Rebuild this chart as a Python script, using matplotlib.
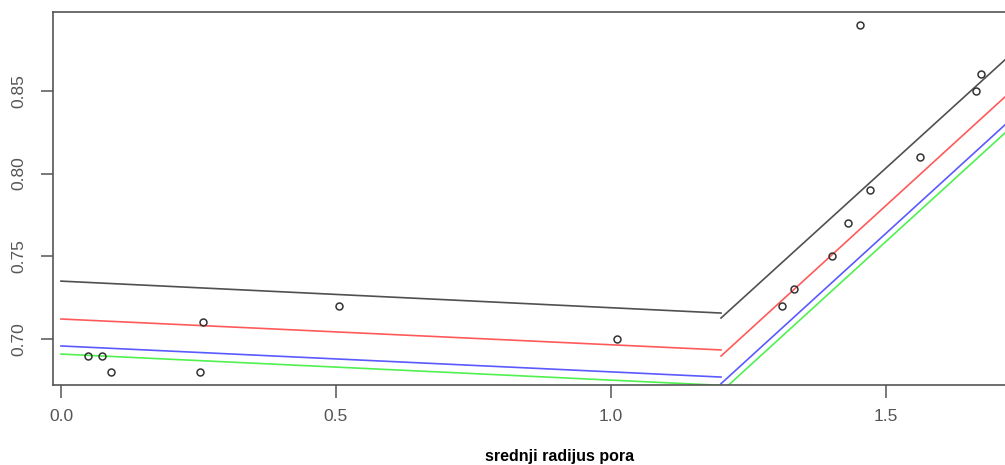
import matplotlib
matplotlib.use("Agg")
import matplotlib.pyplot as plt
import numpy as np

# observed points
radius = [0.049, 0.075, 0.091, 0.253, 0.258, 0.505, 1.011, 1.311, 1.333,
          1.402, 1.431, 1.471, 1.453, 1.562, 1.664, 1.673]
value = [0.69, 0.69, 0.68, 0.68, 0.71, 0.72, 0.70, 0.72, 0.73,
         0.75, 0.77, 0.79, 0.89, 0.81, 0.85, 0.86]

# fitted broken lines: left piece 0 -> break, right piece break -> end
brk = 1.2
x_end = 1.716
left_start = {"gray": 0.735, "red": 0.7121, "blue": 0.6958, "green": 0.6909}
left_end = {"gray": 0.7157, "red": 0.6934, "blue": 0.677, "green": 0.672}
right_start = {"gray": 0.7127, "red": 0.6897, "blue": 0.673, "green": 0.668}
right_end = {"gray": 0.8687, "red": 0.8463, "blue": 0.8294, "green": 0.8245}
colors = {"gray": "#505050", "red": "#ff5a5a", "blue": "#5a5aff", "green": "#50f050"}

W, H = 1005, 465
fig = plt.figure(figsize=(W / 100, H / 100), dpi=100)
plt.rcParams['font.family'] = ['Liberation Sans', 'DejaVu Sans']

# axes extends past right edge (image was cropped)
ax = fig.add_axes([53 / W, 1 - 385 / H, (1067 - 53) / W, (385 - 12) / H])
ax.set_xlim(-0.0145, 1.829)
ax.set_ylim(0.6722, 0.8977)

for k in ["green", "blue", "red", "gray"]:
    ax.plot([0, brk], [left_start[k], left_end[k]], color=colors[k], lw=1.2)
    ax.plot([brk, x_end], [right_start[k], right_end[k]], color=colors[k], lw=1.2)

ax.plot(radius, value, 'o', mfc='none', mec='#333333', ms=5, mew=1.1)

for s in ax.spines.values():
    s.set_color('#555555')
    s.set_linewidth(1.2)

ax.set_xticks([0.0, 0.5, 1.0, 1.5])
ax.set_xticklabels(["0.0", "0.5", "1.0", "1.5"])
ax.set_yticks([0.70, 0.75, 0.80, 0.85])
ax.set_yticklabels(["0.70", "0.75", "0.80", "0.85"], rotation=90, va='center')
ax.tick_params(direction='out', length=9, width=1.1, color='#555555',
               labelcolor='#555555', labelsize=12.5, pad=8)
ax.tick_params(axis='y', pad=10)

fig.text(560 / W, 1 - 456 / H, "srednji radijus pora", ha='center', va='center',
         fontsize=11.5, fontweight='bold', color='black')

fig.savefig("out.png", dpi=100)
